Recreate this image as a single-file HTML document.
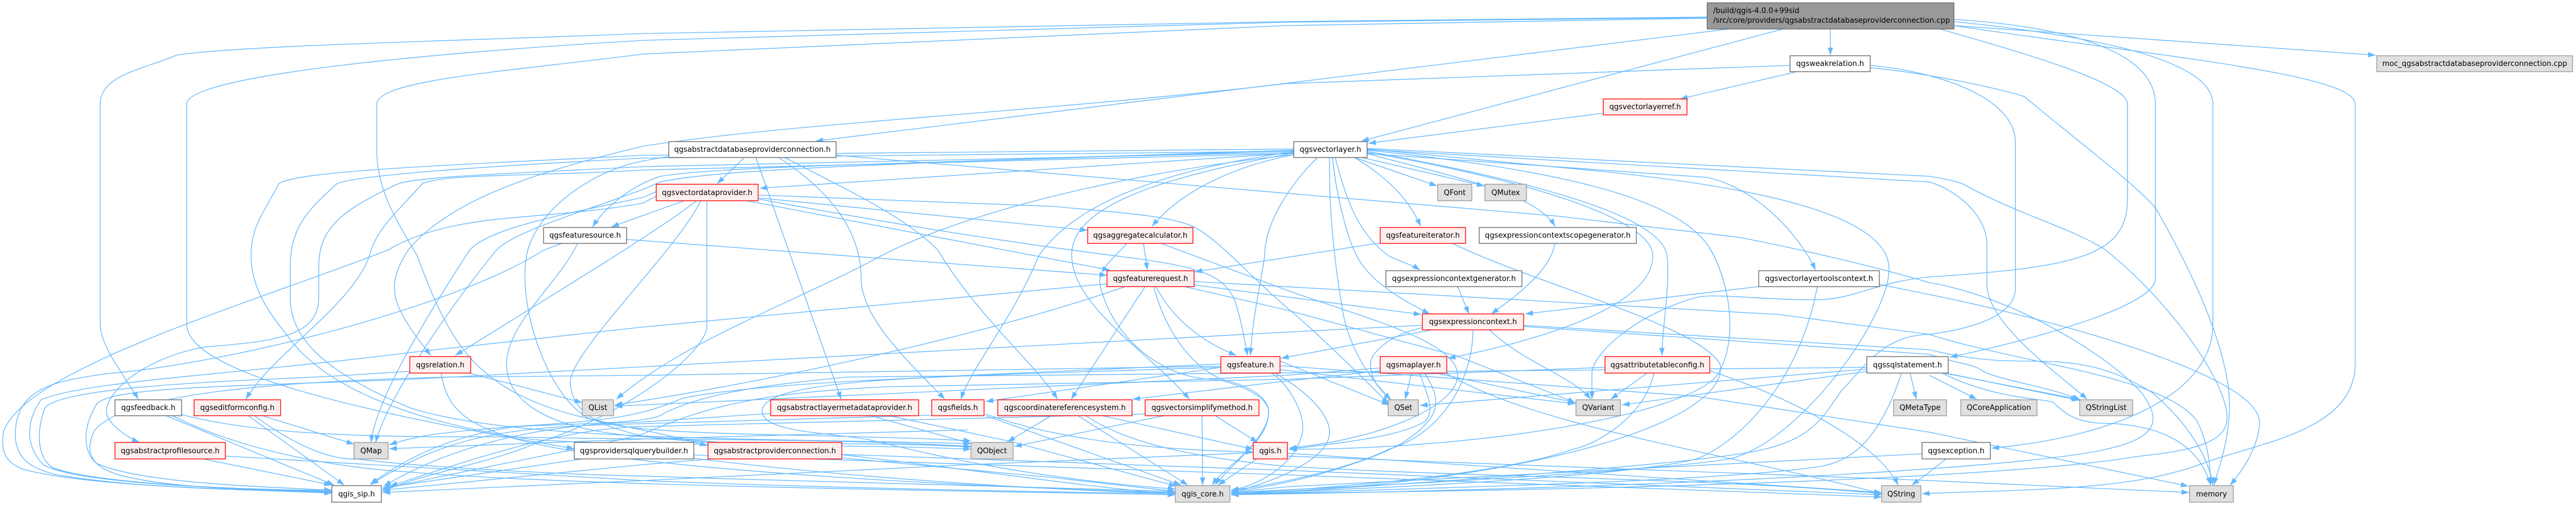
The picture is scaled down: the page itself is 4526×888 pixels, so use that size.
<!DOCTYPE html>
<html><head><meta charset="utf-8"><title>Include graph</title>
<style>
html,body{margin:0;padding:0;background:#fff}
svg{display:block}
.e path{fill:none;stroke:#63b8ff;stroke-width:1.33;marker-end:url(#a)}
.n text{font-family:"DejaVu Sans",sans-serif;font-size:13px;fill:#000;text-anchor:middle}
.w{fill:#fff;stroke:#666;stroke-width:1.33}
.r{fill:#fff0f0;stroke:#f00;stroke-width:1.33}
.g{fill:#e0e0e0;stroke:#999;stroke-width:1.33}
</style></head><body>
<svg xmlns="http://www.w3.org/2000/svg" width="4526" height="888" viewBox="0 0 4526 888">
<defs><marker id="a" markerUnits="userSpaceOnUse" markerWidth="14" markerHeight="10" refX="13.3" refY="4.7" orient="auto"><path d="M0,0L13.3,4.7L0,9.4Z" fill="#63b8ff"/></marker></defs>
<g class="e">
<path d="M3433,45L4174,97"/>
<path d="M3216,51L3216,97"/>
<path d="M3133,51L2392,248"/>
<path d="M3038,51L1433,248"/>
<path d="M2999,30L2260,38L1130,59C800,72 420,80 310,97C260,120 176,130 176,183L176,570C176,610 225,670 243,702"/>
<path d="M2999,31L2260,39L1130,71C800,90 328,130 328,183L328,570C328,650 600,720 1009,789"/>
<path d="M2999,32L2260,45L1130,95C900,125 662,140 662,183L662,265C662,340 705,400 733,450C790,600 830,690 1038,737C1130,757 1180,765 1243,784"/>
<path d="M3433,34C3600,45 3787,80 3787,183L3787,490C3787,540 3560,600 3426,628"/>
<path d="M3433,38C3650,60 3888,100 3888,183L3888,570C3888,700 3700,770 3499,788"/>
<path d="M3433,45C3800,100 4138,130 4138,183L4138,640C4138,760 3960,780 3870,815C3750,860 3600,860 3377,868"/>
<path d="M3408,51C3600,105 3738,150 3738,183L3738,350C3738,450 3650,470 3390,487C3300,495 3260,525 3197,527C3100,528 3010,515 2981,523C2880,550 2797,620 2797,657L2797,702"/>
<path d="M3145,115L2260,147C1800,200 1400,215 1130,257C950,300 790,350 717,440C680,500 680,530 757,625"/>
<path d="M3157,126L2952,174"/>
<path d="M2817,199L2404,252"/>
<path d="M3286,115C3400,125 3541,170 3541,250L3541,507C3541,560 3450,580 3390,588C3310,590 3280,640 3233,690C3200,740 3180,770 3100,790C3000,815 2500,850 2163,870"/>
<path d="M3286,119C3400,130 3530,160 3557,170C3640,240 3760,330 3788,367C3830,440 3900,570 3915,680C3925,760 3895,830 3890,853"/>
<path d="M2273,262L1130,273C800,290 520,300 490,323C460,380 441,400 441,450C441,510 480,560 505,590C560,670 700,740 937,773C1200,790 1450,772 1706,786"/>
<path d="M2273,266L1130,278C800,295 620,310 592,323C540,370 510,400 510,470L510,523C510,590 560,650 720,717C900,775 1300,770 1706,780"/>
<path d="M2273,268L1130,293C900,305 740,310 700,323C600,370 560,400 560,470L560,523C560,590 490,600 360,610C250,630 187,690 187,723C187,745 225,770 245,778"/>
<path d="M2273,270L1130,299C950,310 780,305 742,323C700,370 665,400 652,440C630,530 480,620 432,702"/>
<path d="M2273,269L1335,331"/>
<path d="M2273,272C2180,290 2080,330 2024,398"/>
<path d="M2273,264L1706,283C1500,290 1250,295 1160,310C1100,330 1060,370 1041,399"/>
<path d="M1202,353L1074,399"/>
<path d="M1224,353C1150,410 1000,500 800,625"/>
<path d="M1231,353C1190,440 1000,620 1002,673C1005,730 1060,750 1130,767C1300,790 1500,780 1706,790"/>
<path d="M1242,353L1242,573C1242,620 1100,730 940,780C860,815 750,830 672,864"/>
<path d="M1153,337L1130,347C1000,375 860,400 825,440C760,540 660,700 652,778"/>
<path d="M1153,345L1130,357C950,390 800,370 681,440C450,530 40,650 6,760C0,800 15,815 40,825C150,855 400,860 583,867"/>
<path d="M2273,265L1706,283C1500,292 1250,300 1160,320L1130,333C1000,380 900,410 872,440C790,540 680,700 660,778"/>
<path d="M1175,275L1130,283C1040,300 940,370 925,450C910,540 960,690 1030,733C1100,770 1400,760 1706,775"/>
<path d="M1015,428C980,500 890,570 890,640C890,700 950,755 1130,768C1500,790 1900,860 2065,868"/>
<path d="M987,428L955,440C800,540 400,640 187,657C100,670 30,680 27,760C25,810 60,825 100,835C250,860 450,862 583,865"/>
<path d="M1101,421L1945,484"/>
<path d="M1312,353L1950,475"/>
<path d="M1333,348L1911,405"/>
<path d="M1333,350C1600,400 1800,430 2000,455C2100,470 2150,480 2170,530C2180,560 2185,590 2192,625"/>
<path d="M1333,343L1851,363C1980,375 2060,380 2100,400C2150,430 2180,470 2260,540C2320,590 2400,670 2440,710"/>
<path d="M2009,428L2016,475"/>
<path d="M1980,428C1945,465 1925,480 1935,510C1960,600 2050,670 2139,667C2190,680 2229,700 2229,725C2229,780 2150,820 2130,853"/>
<path d="M2027,504C2050,590 2100,650 2150,668C2200,680 2229,700 2229,725C2229,770 2150,830 2135,853"/>
<path d="M2040,428L2260,510C2400,560 2561,600 2561,660C2561,710 2440,770 2265,788"/>
<path d="M2402,264C2700,295 2950,340 3006,440C3040,500 3055,600 3017,660C2960,730 2600,790 2265,790"/>
<path d="M1469,273L2736,380L3053,417C3150,435 3300,470 3390,497C3530,520 3700,620 3762,690C3800,740 3790,770 3700,790C3600,815 3100,855 2163,870"/>
<path d="M2552,428C2700,500 2980,570 3022,640C3040,720 2800,830 2260,865L2163,868"/>
<path d="M2425,427L2099,478"/>
<path d="M2402,268C2650,310 2904,380 2904,450C2904,540 2700,600 2544,630"/>
<path d="M2402,266C2700,320 2920,380 2929,450C2935,500 2920,580 2920,625"/>
<path d="M2402,270L3000,312C3100,335 3170,430 3190,475"/>
<path d="M2402,262L2800,300C3100,330 3319,380 3319,473C3319,560 3160,780 3038,807C2900,830 2400,855 2163,866"/>
<path d="M2402,263L3390,320C3440,335 3491,380 3491,430L3491,500C3491,570 3620,660 3667,702"/>
<path d="M2402,261L3390,310C3420,315 3440,320 3448,323C3550,380 3640,400 3700,440C3800,520 3900,650 3912,723C3920,770 3880,790 3752,803C3600,830 3100,860 2163,868"/>
<path d="M3090,504L2680,552"/>
<path d="M3193,504C3160,680 3050,780 2981,807C2850,840 2400,860 2163,868"/>
<path d="M3302,500L3390,518C3550,550 3960,650 3970,740C3970,790 3930,840 3918,853"/>
<path d="M2617,580C2680,640 2760,660 2795,702"/>
<path d="M2588,580C2588,660 2540,760 2440,790C2380,820 2260,850 2163,862"/>
<path d="M2499,576C2440,590 2408,620 2408,640C2408,670 2425,685 2444,703"/>
<path d="M2517,580L2251,630"/>
<path d="M2499,572L2260,584L1130,645L720,667C400,680 200,680 170,710C140,760 150,800 170,815C250,850 450,855 583,862"/>
<path d="M2677,572L3390,615C3450,630 3500,635 3560,635C3640,635 3700,640 3781,690C3840,740 3880,800 3888,853"/>
<path d="M2677,574L3390,623C3440,640 3470,640 3484,653C3520,670 3600,680 3655,703"/>
<path d="M2561,504L2581,552"/>
<path d="M2732,428C2725,470 2680,510 2620,552"/>
<path d="M2336,277C2335,350 2340,440 2361,557C2375,620 2410,670 2444,703"/>
<path d="M2341,277C2350,360 2370,420 2379,440C2400,490 2450,520 2512,552"/>
<path d="M2346,277C2365,350 2385,410 2440,450C2460,460 2480,465 2495,475"/>
<path d="M2380,277C2450,320 2480,360 2496,398"/>
<path d="M2402,270C2550,310 2700,340 2732,398"/>
<path d="M2380,277L2525,327"/>
<path d="M2393,277L2608,327"/>
<path d="M2315,277C2270,320 2222,390 2222,450C2215,500 2200,560 2197,625"/>
<path d="M2273,267C2100,290 1900,340 1825,450C1780,560 1710,640 1688,702"/>
<path d="M2273,269C2050,310 1880,360 1883,450C1885,540 2020,620 2090,702"/>
<path d="M2273,272C2000,300 1700,370 1548,450C1400,530 1200,600 1083,702"/>
<path d="M1945,499L1130,575L720,620C400,660 150,670 72,703C40,750 50,790 76,817C130,850 400,860 583,864"/>
<path d="M1977,504C1700,600 1300,680 1080,712"/>
<path d="M2012,504L1882,702"/>
<path d="M2031,504C2060,560 2110,600 2172,625"/>
<path d="M2098,501L2260,522L2497,553"/>
<path d="M2098,495L3125,553L3390,588C3550,640 3800,660 3860,740C3880,780 3884,820 3884,853"/>
<path d="M2081,504L2260,545L2563,627L2768,708"/>
<path d="M2249,643L2981,697L3390,760L3845,855"/>
<path d="M2249,650L2768,710"/>
<path d="M2233,656C2260,670 2289,720 2289,750C2289,800 2230,850 2163,862"/>
<path d="M2240,656C2300,690 2336,730 2336,760C2336,810 2230,850 2163,866"/>
<path d="M2249,635L2441,712"/>
<path d="M2145,646L1732,706"/>
<path d="M2145,644L1130,660L793,663C500,670 220,690 166,757C140,810 180,830 230,840C320,860 480,862 583,866"/>
<path d="M720,653L576,662C400,670 110,680 79,717C60,770 70,810 94,823C170,850 420,862 583,862"/>
<path d="M824,656L1023,708"/>
<path d="M775,656C785,720 820,745 900,770C1100,830 1800,860 2065,866"/>
<path d="M303,731C400,780 550,820 720,830C1000,855 1800,865 2065,870"/>
<path d="M319,729C420,755 560,770 865,768C1200,775 1450,770 1706,785"/>
<path d="M447,731C500,770 570,810 627,807C720,820 1000,835 1130,837C1500,850 1900,860 2065,864"/>
<path d="M396,802L1130,845C1500,860 1900,866 2065,868"/>
<path d="M292,731L587,853"/>
<path d="M436,731L605,853"/>
<path d="M357,807L583,853"/>
<path d="M461,731L622,781"/>
<path d="M1023,807L672,858"/>
<path d="M1637,730L1130,745C908,750 793,760 652,852"/>
<path d="M1354,727L1130,742C960,745 800,780 674,855"/>
<path d="M2202,796L1706,817L1130,845L672,866"/>
<path d="M1250,807L1130,817L672,862"/>
<path d="M2145,646C1700,660 1350,670 1200,700C1130,730 1080,740 900,750C800,760 750,760 684,782"/>
<path d="M1700,756L1130,772L684,789"/>
<path d="M2820,646L2260,667L1560,680C1350,690 1250,710 1130,763C1050,785 850,820 672,860"/>
<path d="M2425,647L2260,660L1130,712L1080,714"/>
<path d="M3280,646L1490,663C1300,680 1220,700 1166,727C1150,745 1000,745 908,750C800,765 720,800 650,852"/>
<path d="M2425,652L2260,670L1990,702"/>
<path d="M1530,731L1706,780"/>
<path d="M1562,731L1779,777L2067,855"/>
<path d="M1847,731L1770,777"/>
<path d="M1894,731L2087,853"/>
<path d="M1937,731L2202,790"/>
<path d="M1908,731C1980,780 2100,805 2260,820C2600,840 3000,840 3306,868"/>
<path d="M2045,731L1782,785"/>
<path d="M2112,731L2113,853"/>
<path d="M2135,731L2210,778"/>
<path d="M2012,728L1130,750C1000,752 850,800 685,855"/>
<path d="M1732,731L2075,853"/>
<path d="M1732,728C1850,770 2000,790 2202,795"/>
<path d="M2208,807L2140,853"/>
<path d="M2262,797L3306,866"/>
<path d="M2262,802L3390,845L3846,866"/>
<path d="M1479,799L2260,827L3306,870"/>
<path d="M1479,805L1851,840L2065,864"/>
<path d="M1219,806C1500,840 1800,860 2065,868"/>
<path d="M1219,800L2260,835L3306,874"/>
<path d="M2145,640L1700,660C1500,670 1340,680 1339,723C1340,760 1450,760 1526,773C1640,800 1800,840 2065,860"/>
<path d="M2480,656L2469,702"/>
<path d="M2494,656C2510,700 2520,720 2505,740C2460,770 2340,780 2265,790"/>
<path d="M2503,656C2530,700 2540,730 2462,780C2400,815 2260,855 2163,864"/>
<path d="M2522,656L2768,708"/>
<path d="M2540,656C2700,750 3000,790 3306,868"/>
<path d="M2894,656L2830,702"/>
<path d="M2906,656C2890,730 2810,780 2764,790C2650,830 2400,855 2163,868"/>
<path d="M3004,652C3150,700 3300,780 3335,853"/>
<path d="M3280,649L2495,713"/>
<path d="M3280,653L2850,712"/>
<path d="M3341,656C3300,780 3250,810 3200,820C3000,850 2400,860 2163,870"/>
<path d="M3356,656L3367,702"/>
<path d="M3390,660L3473,702"/>
<path d="M3415,656L3652,702"/>
<path d="M3418,656L3654,704"/>
<path d="M3412,656C3500,700 3580,700 3607,707C3630,730 3650,742 3690,744C3780,745 3860,770 3884,853"/>
<path d="M3377,798L2260,856L2163,866"/>
<path d="M3419,807L3390,830L3359,853"/>
<path d="M1308,277L1260,323"/>
<path d="M1328,277L1478,702"/>
<path d="M1368,277C1450,330 1513,400 1513,490C1513,560 1600,640 1660,702"/>
<path d="M1379,277C1480,330 1590,380 1648,440C1720,560 1820,640 1858,702"/>
</g>
<g class="n">
<rect x="2999.5" y="5" width="433.5" height="46" fill="#999" stroke="#666" stroke-width="1.33"/>
<text x="3010" y="23" style="text-anchor:start">/build/qgis-4.0.0+99sid</text>
<text x="3010" y="40" style="text-anchor:start">/src/core/providers/qgsabstractdatabaseproviderconnection.cpp</text>
<rect class="w" x="3145" y="98" width="141" height="28"/><text x="3215.5" y="116">qgsweakrelation.h</text>
<rect class="g" x="4176" y="98" width="344" height="28"/><text x="4348" y="116">moc_qgsabstractdatabaseproviderconnection.cpp</text>
<rect class="r" x="2817" y="174" width="147" height="28"/><text x="2890.5" y="192">qgsvectorlayerref.h</text>
<rect class="w" x="2273" y="249" width="129" height="28"/><text x="2337.5" y="267">qgsvectorlayer.h</text>
<rect class="w" x="1175" y="249" width="294" height="28"/><text x="1322" y="267">qgsabstractdatabaseproviderconnection.h</text>
<rect class="r" x="1153" y="324" width="179" height="29"/><text x="1242.5" y="343">qgsvectordataprovider.h</text>
<rect class="g" x="2526" y="324" width="60" height="29"/><text x="2556" y="343">QFont</text>
<rect class="g" x="2609" y="324" width="73" height="29"/><text x="2645.5" y="343">QMutex</text>
<rect class="w" x="955" y="400" width="146" height="28"/><text x="1028" y="418">qgsfeaturesource.h</text>
<rect class="r" x="1911" y="400" width="185" height="28"/><text x="2003.5" y="418">qgsaggregatecalculator.h</text>
<rect class="r" x="2425" y="400" width="150" height="28"/><text x="2500" y="418">qgsfeatureiterator.h</text>
<rect class="w" x="2599" y="400" width="276" height="28"/><text x="2737" y="418">qgsexpressioncontextscopegenerator.h</text>
<rect class="r" x="1945" y="476" width="153" height="28"/><text x="2021.5" y="494">qgsfeaturerequest.h</text>
<rect class="w" x="2435" y="476" width="239" height="28"/><text x="2554.5" y="494">qgsexpressioncontextgenerator.h</text>
<rect class="w" x="3090" y="476" width="212" height="28"/><text x="3196" y="494">qgsvectorlayertoolscontext.h</text>
<rect class="r" x="2499" y="552" width="178" height="28"/><text x="2588" y="570">qgsexpressioncontext.h</text>
<rect class="r" x="720" y="627" width="107" height="29"/><text x="773.5" y="646">qgsrelation.h</text>
<rect class="r" x="2145" y="627" width="104" height="29"/><text x="2197" y="646">qgsfeature.h</text>
<rect class="r" x="2425" y="627" width="117" height="29"/><text x="2483.5" y="646">qgsmaplayer.h</text>
<rect class="r" x="2820" y="627" width="184" height="29"/><text x="2912" y="646">qgsattributetableconfig.h</text>
<rect class="w" x="3280" y="627" width="143" height="29"/><text x="3351.5" y="646">qgssqlstatement.h</text>
<rect class="w" x="202" y="703" width="117" height="28"/><text x="260.5" y="721">qgsfeedback.h</text>
<rect class="r" x="341" y="703" width="152" height="28"/><text x="417" y="721">qgseditformconfig.h</text>
<rect class="g" x="1023" y="703" width="55" height="28"/><text x="1050.5" y="721">QList</text>
<rect class="r" x="1354" y="703" width="260" height="28"/><text x="1484" y="721">qgsabstractlayermetadataprovider.h</text>
<rect class="r" x="1637" y="703" width="92" height="28"/><text x="1683" y="721">qgsfields.h</text>
<rect class="r" x="1753" y="703" width="236" height="28"/><text x="1871" y="721">qgscoordinatereferencesystem.h</text>
<rect class="r" x="2012" y="703" width="200" height="28"/><text x="2112" y="721">qgsvectorsimplifymethod.h</text>
<rect class="g" x="2439" y="703" width="53" height="28"/><text x="2465.5" y="721">QSet</text>
<rect class="g" x="2769" y="703" width="78" height="28"/><text x="2808" y="721">QVariant</text>
<rect class="g" x="3327" y="703" width="93" height="28"/><text x="3373.5" y="721">QMetaType</text>
<rect class="g" x="3445" y="703" width="134" height="28"/><text x="3512" y="721">QCoreApplication</text>
<rect class="g" x="3654" y="703" width="93" height="28"/><text x="3700.5" y="721">QStringList</text>
<rect class="r" x="202" y="778" width="194" height="29"/><text x="299" y="797">qgsabstractprofilesource.h</text>
<rect class="g" x="622" y="778" width="60" height="29"/><text x="652" y="797">QMap</text>
<rect class="w" x="1009" y="778" width="210" height="29"/><text x="1114" y="797">qgsprovidersqlquerybuilder.h</text>
<rect class="r" x="1244" y="778" width="235" height="29"/><text x="1361.5" y="797">qgsabstractproviderconnection.h</text>
<rect class="g" x="1706" y="778" width="74" height="29"/><text x="1743" y="797">QObject</text>
<rect class="r" x="2202" y="778" width="60" height="29"/><text x="2232" y="797">qgis.h</text>
<rect class="w" x="3377" y="778" width="120" height="29"/><text x="3437" y="797">qgsexception.h</text>
<rect class="w" x="583" y="854" width="87" height="29"/><text x="626.5" y="873">qgis_sip.h</text>
<rect class="g" x="2065" y="854" width="96" height="29"/><text x="2113" y="873">qgis_core.h</text>
<rect class="g" x="3306" y="854" width="69" height="29"/><text x="3340.5" y="873">QString</text>
<rect class="g" x="3847" y="854" width="77" height="29"/><text x="3885.5" y="873">memory</text>
</g>
</svg>
</body></html>
